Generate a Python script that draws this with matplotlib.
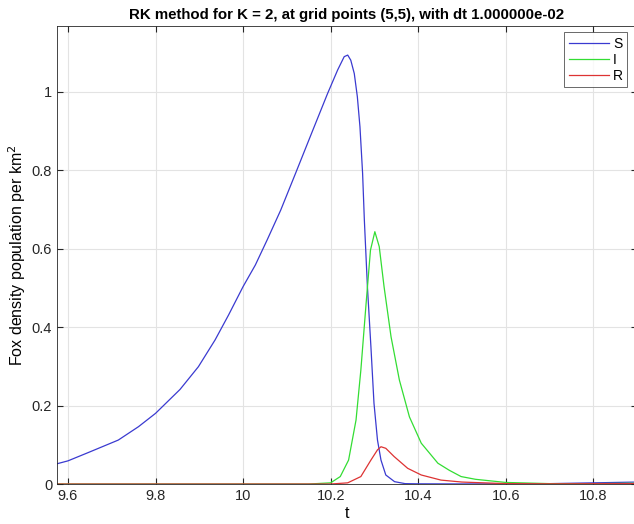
import matplotlib
matplotlib.use("Agg")
from matplotlib import pyplot as plt

# values
t_S = [9.573, 9.6, 9.646, 9.715, 9.761, 9.8, 9.856, 9.898, 9.936, 9.967, 10.0,
       10.028, 10.055, 10.086, 10.12, 10.158, 10.193, 10.216, 10.231, 10.239,
       10.246, 10.254, 10.261, 10.267, 10.273, 10.277, 10.284, 10.292, 10.299,
       10.307, 10.315, 10.326, 10.346, 10.37, 10.4, 10.5, 10.6, 10.7, 10.8, 10.9]
S = [0.051, 0.059, 0.080, 0.112, 0.146, 0.180, 0.241, 0.299, 0.367, 0.431, 0.503,
     0.558, 0.622, 0.698, 0.792, 0.898, 0.995, 1.055, 1.089, 1.093,
     1.080, 1.046, 0.987, 0.910, 0.792, 0.673, 0.503, 0.350, 0.206,
     0.112, 0.061, 0.023, 0.006, 0.001, 0.0005, 0.0002, 0.0005, 0.001, 0.003, 0.005]

t_I = [9.573, 10.15, 10.2, 10.222, 10.241, 10.258, 10.269, 10.281, 10.291, 10.301,
       10.311, 10.322, 10.338, 10.357, 10.38, 10.407, 10.445, 10.471, 10.498,
       10.531, 10.6, 10.7, 10.8, 10.9]
I = [0.0, 0.0, 0.003, 0.019, 0.061, 0.163, 0.290, 0.460, 0.596, 0.643,
     0.605, 0.503, 0.375, 0.265, 0.171, 0.104, 0.053, 0.035, 0.019,
     0.012, 0.004, 0.001, 0.001, 0.002]

t_R = [9.573, 10.2, 10.239, 10.269, 10.292, 10.307, 10.315, 10.326, 10.345, 10.376,
       10.407, 10.452, 10.5, 10.6, 10.7, 10.8, 10.9]
R = [0.0, 0.0, 0.003, 0.019, 0.061, 0.087, 0.095, 0.091, 0.070, 0.040,
     0.023, 0.010, 0.005, 0.001, 0.0005, 0.0008, 0.001]

plt.rcParams['font.family'] = ['Liberation Sans', 'DejaVu Sans']

fig = plt.figure(figsize=(6.34, 5.24), dpi=100)
ax = fig.add_axes([0.0899, 0.0763, 0.915, 0.874])

ax.plot(t_S, S, color='#3a3ad0', lw=0.9, label='S')
ax.plot(t_I, I, color='#33dd33', lw=0.9, label='I')
ax.plot(t_R, R, color='#dd3333', lw=0.9, label='R')

ax.set_xlim(9.575, 10.9)
ax.set_ylim(0, 1.167)
ax.set_xticks([9.6, 9.8, 10, 10.2, 10.4, 10.6, 10.8])
ax.set_xticklabels(['9.6', '9.8', '10', '10.2', '10.4', '10.6', '10.8'])
ax.set_yticks([0, 0.2, 0.4, 0.6, 0.8, 1])
ax.set_yticklabels(['0', '0.2', '0.4', '0.6', '0.8', '1'])
ax.grid(True, color='#e3e3e3', lw=0.8)
ax.set_axisbelow(True)
ax.tick_params(direction='in', top=True, right=True, labelsize=10.5,
               color='#262626', labelcolor='#262626', length=4)
for s in ax.spines.values():
    s.set_color('#262626')
    s.set_linewidth(0.6)

ax.set_title('RK method for K = 2, at grid points (5,5), with dt 1.000000e-02',
             fontsize=10.8, fontweight='bold', pad=5)
ax.set_xlabel('t', fontsize=11.5, labelpad=2)
ax.set_ylabel('Fox density population per km$^2$', fontsize=11.5, labelpad=3)

leg = ax.legend(loc='upper right', bbox_to_anchor=(0.99, 0.995), fontsize=10,
                fancybox=False, edgecolor='#262626', handlelength=2.9,
                handletextpad=0.3, borderpad=0.3, labelspacing=0.15,
                borderaxespad=0.3)
leg.get_frame().set_linewidth(0.6)

fig.savefig('out.png', dpi=100)
